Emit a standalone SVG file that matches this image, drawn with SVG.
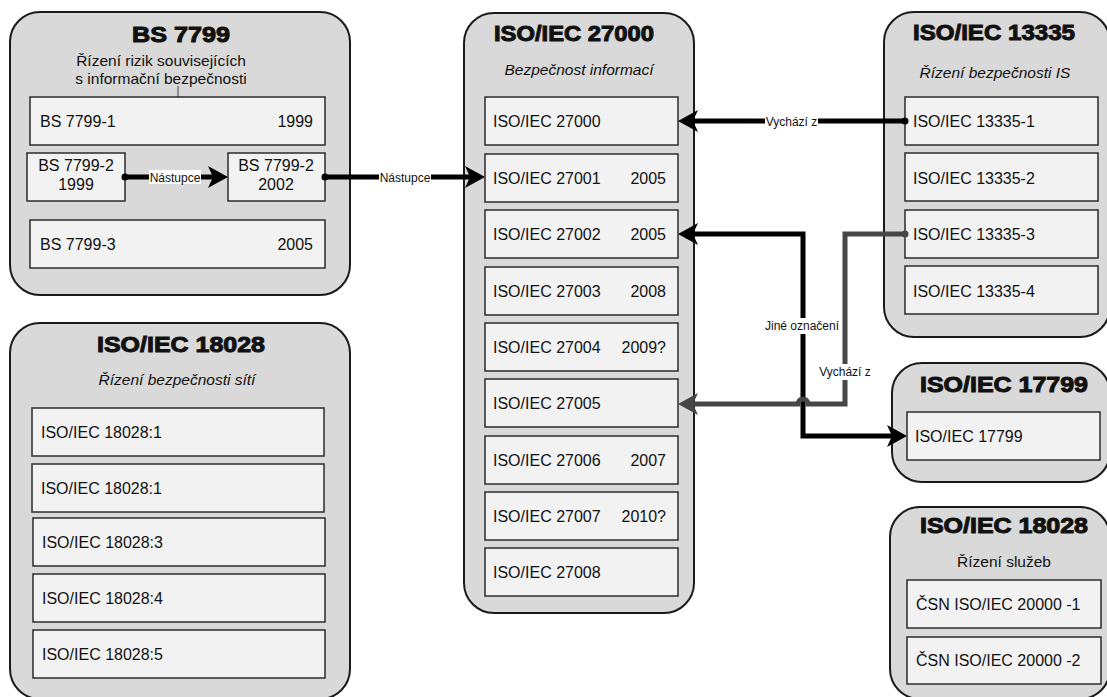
<svg xmlns="http://www.w3.org/2000/svg" width="1107" height="697" viewBox="0 0 1107 697">
  <style>
    text { font-family: "Liberation Sans", Arial, sans-serif; fill: #111; }
    .group { fill: #d9d9d9; stroke: #1a1a1a; stroke-width: 2; }
    .item { fill: #f2f2f2; stroke: #2b2b2b; stroke-width: 1.5; }
    .title { font-size: 22px; font-weight: bold; text-anchor: middle; stroke: #111; stroke-width: 1; }
    .sub { font-size: 15.5px; text-anchor: middle; }
    .it { font-style: italic; }
    .t { font-size: 16px; }
    .yr { font-size: 16px; text-anchor: end; }
    .c2 { font-size: 16px; text-anchor: middle; }
    .lbl { font-size: 12px; text-anchor: middle; }
    .lblbg { fill: #ffffff; }
    .edge { fill: none; stroke: #000; stroke-width: 5; }
    .edge-g { fill: none; stroke: #474747; stroke-width: 5; }
  </style>
  <defs>
    <marker id="arrow" markerUnits="userSpaceOnUse" markerWidth="22" markerHeight="24" refX="5" refY="11" orient="auto-start-reverse" overflow="visible">
      <path d="M20,11 L0,0 L5,11 L0,22 Z" fill="#000"/>
    </marker>
    <marker id="arrow-g" markerUnits="userSpaceOnUse" markerWidth="22" markerHeight="24" refX="5" refY="11" orient="auto-start-reverse" overflow="visible">
      <path d="M20,11 L0,0 L5,11 L0,22 Z" fill="#474747"/>
    </marker>
    <marker id="dot" markerUnits="userSpaceOnUse" markerWidth="8" markerHeight="8" refX="4" refY="4" orient="auto" overflow="visible">
      <circle cx="4" cy="4" r="3.5" fill="#000"/>
    </marker>
    <marker id="dot-g" markerUnits="userSpaceOnUse" markerWidth="8" markerHeight="8" refX="4" refY="4" orient="auto" overflow="visible">
      <circle cx="4" cy="4" r="3.5" fill="#474747"/>
    </marker>
  </defs>

  <!-- BS 7799 -->
  <g id="bs7799">
    <rect class="group" x="10" y="12" width="340" height="283" rx="30"/>
    <text class="title" x="181" y="42" textLength="98" lengthAdjust="spacingAndGlyphs">BS 7799</text>
    <text class="sub" x="161" y="66" font-size="16">Řízení rizik souvisejících</text>
    <text class="sub" x="161" y="84" font-size="16">s informační bezpečnosti</text>
    <line x1="178" y1="86" x2="178" y2="97" stroke="#444" stroke-width="1"/>
    <g id="bs7799-1">
      <rect class="item" x="30" y="97" width="295" height="48"/>
      <text class="t" x="40" y="127">BS 7799-1</text>
      <text class="yr" x="313" y="127">1999</text>
    </g>
    <g id="bs7799-2-1999">
      <rect class="item" x="27" y="153" width="98" height="48"/>
      <text class="c2" x="76" y="171">BS 7799-2</text>
      <text class="c2" x="76" y="190">1999</text>
    </g>
    <g id="bs7799-2-2002">
      <rect class="item" x="228" y="153" width="97" height="48"/>
      <text class="c2" x="276" y="171">BS 7799-2</text>
      <text class="c2" x="276" y="190">2002</text>
    </g>
    <g id="bs7799-3">
      <rect class="item" x="30" y="220" width="295" height="48"/>
      <text class="t" x="40" y="250">BS 7799-3</text>
      <text class="yr" x="313" y="250">2005</text>
    </g>
  </g>

  <!-- ISO/IEC 18028, network security -->
  <g id="iso18028-net">
    <rect class="group" x="10" y="323" width="340" height="376" rx="30"/>
    <text class="title" x="181" y="352" textLength="168" lengthAdjust="spacingAndGlyphs">ISO/IEC 18028</text>
    <text class="sub it" x="177" y="385">Řízení bezpečnosti sítí</text>
    <g id="iso18028-1a">
      <rect class="item" x="32" y="408" width="292" height="48"/>
      <text class="t" x="41" y="438">ISO/IEC 18028:1</text>
    </g>
    <g id="iso18028-1b">
      <rect class="item" x="32" y="464" width="292" height="48"/>
      <text class="t" x="41" y="494">ISO/IEC 18028:1</text>
    </g>
    <g id="iso18028-3">
      <rect class="item" x="33" y="518" width="292" height="48"/>
      <text class="t" x="42" y="548">ISO/IEC 18028:3</text>
    </g>
    <g id="iso18028-4">
      <rect class="item" x="33" y="574" width="292" height="48"/>
      <text class="t" x="42" y="604">ISO/IEC 18028:4</text>
    </g>
    <g id="iso18028-5">
      <rect class="item" x="33" y="630" width="292" height="48"/>
      <text class="t" x="42" y="660">ISO/IEC 18028:5</text>
    </g>
  </g>

  <!-- ISO/IEC 27000 family -->
  <g id="iso27000">
    <rect class="group" x="464" y="13" width="230" height="600" rx="30"/>
    <text class="title" x="574" y="41" textLength="160" lengthAdjust="spacingAndGlyphs">ISO/IEC 27000</text>
    <text class="sub it" x="579" y="75">Bezpečnost informací</text>
    <g id="iso27000-0">
      <rect class="item" x="485" y="97" width="193" height="48"/>
      <text class="t" x="493" y="127">ISO/IEC 27000</text>
    </g>
    <g id="iso27001">
      <rect class="item" x="485" y="154" width="193" height="48"/>
      <text class="t" x="493" y="184">ISO/IEC 27001</text>
      <text class="yr" x="666" y="184">2005</text>
    </g>
    <g id="iso27002">
      <rect class="item" x="485" y="210" width="193" height="48"/>
      <text class="t" x="493" y="240">ISO/IEC 27002</text>
      <text class="yr" x="666" y="240">2005</text>
    </g>
    <g id="iso27003">
      <rect class="item" x="485" y="267" width="193" height="48"/>
      <text class="t" x="493" y="297">ISO/IEC 27003</text>
      <text class="yr" x="666" y="297">2008</text>
    </g>
    <g id="iso27004">
      <rect class="item" x="485" y="323" width="193" height="48"/>
      <text class="t" x="493" y="353">ISO/IEC 27004</text>
      <text class="yr" x="666" y="353">2009?</text>
    </g>
    <g id="iso27005">
      <rect class="item" x="485" y="379" width="193" height="48"/>
      <text class="t" x="493" y="409">ISO/IEC 27005</text>
    </g>
    <g id="iso27006">
      <rect class="item" x="485" y="436" width="193" height="48"/>
      <text class="t" x="493" y="466">ISO/IEC 27006</text>
      <text class="yr" x="666" y="466">2007</text>
    </g>
    <g id="iso27007">
      <rect class="item" x="485" y="492" width="193" height="48"/>
      <text class="t" x="493" y="522">ISO/IEC 27007</text>
      <text class="yr" x="666" y="522">2010?</text>
    </g>
    <g id="iso27008">
      <rect class="item" x="485" y="548" width="193" height="48"/>
      <text class="t" x="493" y="578">ISO/IEC 27008</text>
    </g>
  </g>

  <!-- ISO/IEC 13335 -->
  <g id="iso13335">
    <rect class="group" x="884" y="12" width="226" height="325" rx="30"/>
    <text class="title" x="994" y="40" textLength="162" lengthAdjust="spacingAndGlyphs">ISO/IEC 13335</text>
    <text class="sub it" x="995" y="78">Řízení bezpečnosti IS</text>
    <g id="iso13335-1">
      <rect class="item" x="905" y="97" width="193" height="48"/>
      <text class="t" x="913" y="127">ISO/IEC 13335-1</text>
    </g>
    <g id="iso13335-2">
      <rect class="item" x="905" y="153" width="193" height="48"/>
      <text class="t" x="913" y="184">ISO/IEC 13335-2</text>
    </g>
    <g id="iso13335-3">
      <rect class="item" x="905" y="210" width="193" height="48"/>
      <text class="t" x="913" y="240">ISO/IEC 13335-3</text>
    </g>
    <g id="iso13335-4">
      <rect class="item" x="905" y="266" width="193" height="48"/>
      <text class="t" x="913" y="297">ISO/IEC 13335-4</text>
    </g>
  </g>

  <!-- ISO/IEC 17799 -->
  <g id="iso17799">
    <rect class="group" x="892" y="363" width="218" height="119" rx="30"/>
    <text class="title" x="1004" y="392" textLength="168" lengthAdjust="spacingAndGlyphs">ISO/IEC 17799</text>
    <g id="iso17799-item">
      <rect class="item" x="907" y="412" width="193" height="48"/>
      <text class="t" x="915" y="442">ISO/IEC 17799</text>
    </g>
  </g>

  <!-- ISO/IEC 18028, service management -->
  <g id="iso18028-svc">
    <rect class="group" x="890" y="507" width="220" height="192" rx="30"/>
    <text class="title" x="1004" y="533" textLength="168" lengthAdjust="spacingAndGlyphs">ISO/IEC 18028</text>
    <text class="sub" x="1004" y="567" font-size="16">Řízení služeb</text>
    <g id="csn20000-1">
      <rect class="item" x="907" y="580" width="194" height="48"/>
      <text class="t" x="916" y="610">ČSN ISO/IEC 20000 -1</text>
    </g>
    <g id="csn20000-2">
      <rect class="item" x="907" y="637" width="194" height="47"/>
      <text class="t" x="916" y="666">ČSN ISO/IEC 20000 -2</text>
    </g>
  </g>

  <!-- connectors -->
  <g id="connectors">
    <!-- BS 7799-2 1999 -> BS 7799-2 2002 -->
    <path class="edge" d="M125,177 L213,177" marker-start="url(#dot)" marker-end="url(#arrow)"/>
    <rect class="lblbg" x="149" y="170" width="52" height="14"/>
    <text class="lbl" x="175" y="181.5">Nástupce</text>

    <!-- BS 7799-2 2002 -> ISO/IEC 27001 -->
    <path class="edge" d="M325,177 L470,177" marker-start="url(#dot)" marker-end="url(#arrow)"/>
    <rect class="lblbg" x="379" y="170" width="52" height="14"/>
    <text class="lbl" x="405" y="181.5">Nástupce</text>

    <!-- ISO/IEC 13335-1 -> ISO/IEC 27000 -->
    <path class="edge" d="M905,121 L693,121" marker-start="url(#dot)" marker-end="url(#arrow)"/>
    <rect class="lblbg" x="765" y="114" width="53" height="14"/>
    <text class="lbl" x="791.5" y="125.5">Vychází z</text>

    <!-- ISO/IEC 27002 <-> ISO/IEC 17799 -->
    <path class="edge" d="M693,234 L803,234 L803,436 L892,436" marker-start="url(#arrow)" marker-end="url(#arrow)"/>
    <rect class="lblbg" x="764" y="318" width="76" height="16"/>
    <text class="lbl" x="802" y="330">Jiné označení</text>

    <!-- ISO/IEC 13335-3 -> ISO/IEC 27005, hopping over the vertical line -->
    <path class="edge-g" d="M905,234 L845,234 L845,404 L808,404 A5,5 0 0 0 798,404 L693,404" marker-start="url(#dot-g)" marker-end="url(#arrow-g)"/>
    <rect class="lblbg" x="818" y="364" width="54" height="16"/>
    <text class="lbl" x="845" y="376">Vychází z</text>
  </g>
</svg>
